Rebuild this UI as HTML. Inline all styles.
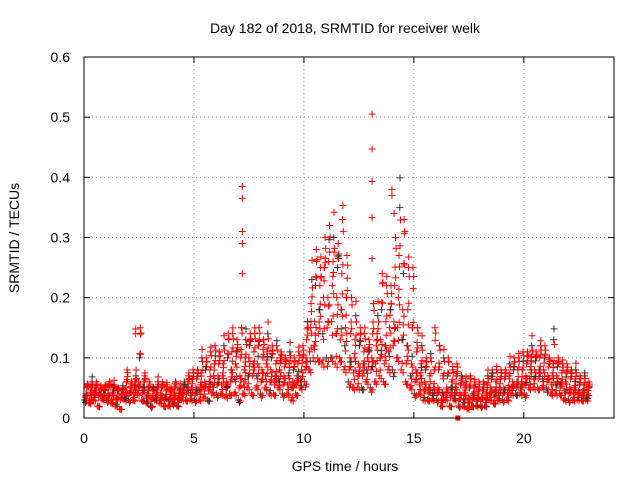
<!DOCTYPE html>
<html><head><meta charset="utf-8"><style>
body{margin:0;background:#fff}
svg text{font-family:"Liberation Sans",sans-serif;font-size:14px;fill:#000}
</style></head><body>
<svg id="chart" width="640" height="480">
<text x="345" y="33" text-anchor="middle">Day 182 of 2018, SRMTID for receiver welk</text>
<text x="345" y="471" text-anchor="middle">GPS time / hours</text>
<text transform="translate(19,238) rotate(-90)" text-anchor="middle">SRMTID / TECUs</text>
<g id="grid"></g><g id="pts"></g>
<rect x="84" y="57" width="530" height="361" fill="none" stroke="#000"/>
</svg>
<script>
const xTicks=[0,5,10,15,20];
const yTicks=[0,0.1,0.2,0.3,0.4,0.5,0.6];
const yTickLabels=["0","0.1","0.2","0.3","0.4","0.5","0.6"];
const t0=0, tStep=0.2;
const low=[.03,.025,.03,.02,.03,.03,.025,.02,.015,.03,.03,.03,.04,.03,.025,.02,.03,.025,.02,.02,.025,.02,.03,.03,.03,.03,.03,.035,.03,.04,.04,.04,.035,.04,.04,.03,.04,.05,.04,.05,.04,.05,.04,.04,.05,.04,.04,.03,.04,.05,.06,.08,.1,.1,.09,.1,.1,.09,.1,.08,.06,.05,.05,.05,.06,.05,.06,.07,.06,.08,.08,.1,.08,.06,.05,.04,.04,.03,.03,.03,.03,.02,.03,.02,.03,.02,.02,.015,.02,.02,.02,.02,.03,.025,.03,.03,.03,.04,.04,.04,.04,.05,.05,.05,.05,.05,.04,.04,.04,.03,.03,.03,.03,.03,.03];
const q1=[.035,.03,.04,.035,.035,.035,.03,.03,.03,.035,.04,.04,.05,.04,.035,.03,.035,.03,.03,.03,.03,.03,.04,.04,.04,.04,.045,.05,.045,.055,.055,.055,.05,.06,.065,.05,.06,.07,.07,.07,.06,.07,.06,.055,.065,.055,.055,.05,.055,.065,.08,.11,.12,.14,.14,.15,.16,.14,.13,.12,.08,.075,.07,.07,.08,.08,.09,.1,.09,.11,.12,.15,.13,.09,.07,.06,.055,.045,.04,.04,.04,.03,.04,.035,.04,.03,.03,.025,.03,.03,.03,.03,.04,.035,.04,.04,.04,.05,.05,.05,.055,.065,.065,.065,.065,.06,.055,.055,.05,.045,.04,.04,.04,.035,.035];
const mid=[.04,.04,.045,.04,.04,.04,.04,.035,.04,.045,.045,.05,.06,.05,.04,.035,.04,.04,.035,.035,.04,.035,.045,.05,.05,.05,.055,.06,.06,.07,.07,.07,.06,.08,.09,.07,.08,.1,.09,.09,.08,.09,.08,.07,.08,.07,.07,.06,.07,.08,.1,.15,.16,.18,.2,.2,.22,.2,.18,.15,.1,.1,.09,.09,.1,.1,.12,.13,.12,.15,.16,.2,.18,.12,.09,.08,.07,.06,.05,.05,.05,.04,.05,.05,.05,.04,.04,.035,.04,.035,.035,.04,.05,.045,.05,.05,.05,.06,.06,.06,.07,.08,.08,.08,.08,.07,.07,.07,.06,.06,.05,.05,.045,.045,.04];
const q3=[.05,.05,.05,.045,.05,.05,.05,.045,.045,.06,.05,.06,.1,.06,.05,.045,.05,.05,.045,.045,.05,.045,.05,.06,.065,.065,.075,.08,.08,.09,.09,.09,.1,.11,.11,.1,.1,.12,.11,.12,.1,.11,.1,.09,.1,.085,.09,.08,.09,.1,.13,.19,.22,.22,.25,.26,.26,.25,.24,.2,.14,.13,.12,.11,.11,.14,.14,.18,.16,.18,.22,.27,.24,.18,.15,.11,.09,.08,.07,.08,.08,.07,.07,.06,.07,.055,.05,.05,.05,.045,.045,.055,.065,.06,.065,.065,.07,.08,.08,.08,.09,.1,.095,.1,.1,.085,.09,.085,.075,.075,.065,.065,.055,.055,.05];
const high=[.055,.06,.06,.05,.055,.06,.055,.05,.05,.08,.06,.07,.15,.07,.06,.05,.06,.06,.055,.05,.06,.05,.06,.07,.08,.08,.1,.1,.11,.12,.11,.12,.14,.14,.13,.15,.13,.14,.14,.15,.13,.14,.12,.12,.11,.1,.11,.1,.11,.12,.16,.23,.28,.25,.3,.32,.3,.29,.33,.27,.2,.17,.15,.14,.13,.19,.17,.24,.22,.22,.3,.35,.33,.25,.25,.15,.12,.1,.1,.15,.12,.1,.1,.08,.09,.07,.06,.07,.06,.06,.06,.07,.08,.08,.08,.08,.09,.1,.1,.11,.11,.12,.11,.12,.12,.1,.13,.1,.09,.09,.08,.08,.07,.07,.06];
const spikeT=[7.2,7.2,7.2,7.2,7.2,13.1,13.1,13.1,13.1,13.1,14.0,14.0,14.1,2.35,2.35];
const spikeV=[.24,.29,.31,.365,.385,.505,.447,.393,.333,.265,.38,.37,.34,.148,.14];
const squareT=[17.0];
const squareV=[0];

const X0=84,X1=614,Y0=418,Y1=57,XMAX=24.1,YMAX=0.6;
const xs=v=>X0+(v/XMAX)*(X1-X0);
const ys=v=>Y0-(v/YMAX)*(Y0-Y1);
const NS="http://www.w3.org/2000/svg";
const grid=document.getElementById('grid'),pts=document.getElementById('pts');
function mk(tag,at,p){const e=document.createElementNS(NS,tag);for(const k in at)e.setAttribute(k,at[k]);p.appendChild(e);return e;}
yTicks.forEach((v,i)=>{
  const y=ys(v);
  if(i>0&&i<yTicks.length-1){const g=mk('line',{x1:X0,x2:X1,y1:y,y2:y,stroke:'#999','stroke-dasharray':'1,3'},grid);
  
  }
  mk('line',{x1:X0,x2:X0+6,y1:y,y2:y,stroke:'#000'},grid);
  mk('line',{x1:X1,x2:X1-6,y1:y,y2:y,stroke:'#000'},grid);
  const t=mk('text',{x:70,y:y+5,'text-anchor':'end'},grid);t.textContent=yTickLabels[i];
  
  
});
xTicks.forEach(v=>{
  const x=xs(v);
  if(v>0){const g=mk('line',{x1:x,x2:x,y1:Y0,y2:Y1,stroke:'#999','stroke-dasharray':'1,3'},grid);
  
  }
  mk('line',{x1:x,x2:x,y1:Y0,y2:Y0-6,stroke:'#000'},grid);
  mk('line',{x1:x,x2:x,y1:Y1,y2:Y1+6,stroke:'#000'},grid);
  const t=mk('text',{x:x,y:443,'text-anchor':'middle'},grid);t.textContent=String(v);
  
  
});
function plus(t,v,c){
  const x=xs(t),y=ys(v);
  const p=mk('path',{d:`M${x-3.5},${y}h7M${x},${y-3.5}v7`,stroke:c,'stroke-width':1,fill:'none'},pts);
  
  
}
const series=[low,q1,mid,q3,high];
series.forEach((arr,k)=>{
  arr.forEach((v,i)=>{
    const t=t0+i*tStep;
    plus(t+0.02+k*0.035,v,(i+k)%5===0?'#333':'#f00');
    plus(t+0.11+k*0.02,v*(k%2?1.06:0.94),'#f00');
    plus(t+0.07+k*0.025,v*(1+(((i*7+k*3)%5)-2)*0.07),(i*3+k)%7===0?'#333':'#f00');
  });
});
spikeT.forEach((t,i)=>plus(t,spikeV[i],'#f00'));
squareT.forEach((t,i)=>{
  const s=mk('rect',{x:xs(t)-2.5,y:ys(squareV[i])-2.5,width:5,height:5,fill:'#f00'},pts);
  
  
});
</script>
</body></html>
